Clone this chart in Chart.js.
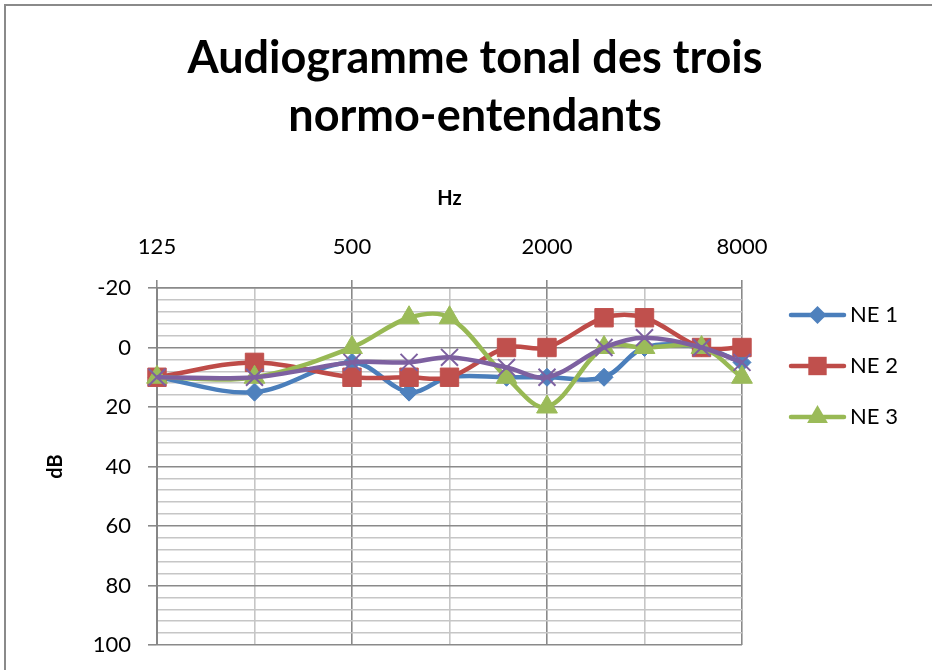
<!DOCTYPE html>
<html>
<head>
<meta charset="utf-8">
<script src="https://cdn.jsdelivr.net/npm/chart.js@4.4.0/dist/chart.umd.min.js"></script>
<style>
html,body{margin:0;padding:0;background:#fff;}
#wrap{position:relative;width:932px;height:670px;}
</style>
</head>
<body>
<div id="wrap"><canvas id="c" width="932" height="670"></canvas></div>
<script>
// ---- data ----
const frequencies = [125, 250, 500, 750, 1000, 1500, 2000, 3000, 4000, 6000, 8000];
const ne1 = [10, 15, 5, 15, 10, 10, 10, 10, 0, 0, 5];
const ne2 = [10, 5, 10, 10, 10, 0, 0, -10, -10, 0, 0];
const ne3 = [10, 10, 0, -10, -10, 10, 20, 0, 0, 0, 10];
const moyenne = [10, 10, 5, 5, 3.3, 6.7, 10, 0, -3.3, 0, 5];
const seriesNames = ['NE 1', 'NE 2', 'NE 3', 'Moyenne'];
const xTickValues = [125, 250, 500, 1000, 2000, 4000, 8000];
const xTickLabels = [125, 500, 2000, 8000];
const yTickLabels = [-20, 0, 20, 40, 60, 80, 100];
const titleLines = ['Audiogramme tonal des trois', 'normo-entendants'];

// ---- styles ----
const FONT = 'Lato';
const MAJOR = '#8a8a8a';
const MINOR = '#c6c6c6';
const styles = [
  {line:'#4A7EBB', fill:'#4F81BD', point:'rectRot', r:9},
  {line:'#BE4B48', fill:'#C0504D', point:'rect', r:13},
  {line:'#98B954', fill:'#9BBB59', point:'triangle', r:12},
  {line:'#7D60A0', fill:'#8064A2', point:'crossRot', r:12}
];
const seriesValues = [ne1, ne2, ne3, moyenne];

const datasets = seriesValues.map((vals, i) => ({
  label: seriesNames[i],
  data: frequencies.map((f, k) => ({x: f, y: vals[k]})),
  borderColor: styles[i].line,
  backgroundColor: styles[i].fill,
  borderWidth: 4.5,
  tension: 0.35,
  pointStyle: styles[i].point,
  pointRadius: styles[i].r,
  pointBackgroundColor: styles[i].fill,
  pointBorderColor: styles[i].point === 'crossRot' ? styles[i].line : styles[i].fill,
  pointBorderWidth: styles[i].point === 'crossRot' ? 2 : 1,
  clip: false,
  order: 4 - i,
  showInLegend: i < 3
}));

const framePlugin = {
  id: 'frame',
  afterDraw(chart) {
    const ctx = chart.ctx;
    ctx.save();
    ctx.strokeStyle = '#8a8a8a';
    ctx.lineWidth = 2;
    ctx.beginPath();
    ctx.moveTo(5, chart.height);
    ctx.lineTo(5, 5);
    ctx.lineTo(chart.width, 5);
    ctx.stroke();
    ctx.restore();
  }
};

function drawMarker(ctx, style, x, y, r, fill) {
  ctx.fillStyle = fill;
  ctx.beginPath();
  if (style === 'rectRot') {
    ctx.moveTo(x - r, y); ctx.lineTo(x, y - r); ctx.lineTo(x + r, y); ctx.lineTo(x, y + r);
  } else if (style === 'rect') {
    const s = r * Math.SQRT1_2;
    ctx.rect(x - s, y - s, 2 * s, 2 * s);
  } else if (style === 'triangle') {
    ctx.moveTo(x, y - r);
    ctx.lineTo(x + r * Math.sin(2 * Math.PI / 3), y - r * Math.cos(2 * Math.PI / 3));
    ctx.lineTo(x + r * Math.sin(4 * Math.PI / 3), y - r * Math.cos(4 * Math.PI / 3));
  }
  ctx.closePath();
  ctx.fill();
}

const legendPlugin = {
  id: 'customLegend',
  afterDraw(chart) {
    const ctx = chart.ctx;
    const rows = [315, 366, 417];
    ctx.save();
    chart.data.datasets.forEach((ds, i) => {
      if (!ds.showInLegend) return;
      const y = rows[i];
      ctx.strokeStyle = ds.borderColor;
      ctx.lineWidth = 4.5;
      ctx.lineCap = 'round';
      ctx.beginPath();
      ctx.moveTo(791, y); ctx.lineTo(844, y);
      ctx.stroke();
      drawMarker(ctx, ds.pointStyle, 817.5, y, ds.pointRadius, ds.pointBackgroundColor);
      ctx.fillStyle = '#000';
      ctx.font = '22px ' + FONT;
      ctx.textBaseline = 'middle';
      ctx.textAlign = 'left';
      ctx.fillText(ds.label, 850, y);
    });
    ctx.restore();
  }
};

new Chart(document.getElementById('c'), {
  type: 'line',
  data: { datasets },
  plugins: [framePlugin, legendPlugin],
  options: {
    responsive: false,
    animation: false,
    events: [],
    layout: { padding: { left: 18, top: 0, right: 0, bottom: 25 } },
    plugins: {
      legend: { display: false },
      tooltip: { enabled: false },
      title: {
        display: true,
        text: titleLines,
        color: '#000',
        font: { family: FONT, size: 45, weight: 'bold', lineHeight: 1.3 },
        padding: { top: 29, bottom: 0 }
      }
    },
    scales: {
      x: {
        type: 'logarithmic',
        position: 'top',
        min: 125,
        max: 8000,
        afterBuildTicks(s) { s.ticks = xTickValues.map(v => ({ value: v })); },
        afterFit(s) { s.height = 142; },
        ticks: {
          autoSkip: false, maxRotation: 0, minRotation: 0, padding: 20,
          color: '#000', font: { family: FONT, size: 22 },
          callback(v) { return xTickLabels.includes(v) ? String(v) : ''; }
        },
        grid: {
          color: c => (c.tick && xTickLabels.includes(c.tick.value)) ? MAJOR : MINOR,
          lineWidth: 1.6,
          tickLength: 8,
          tickColor: c => (c.tick && xTickLabels.includes(c.tick.value)) ? MAJOR : 'rgba(0,0,0,0)',
          tickWidth: 1.6
        },
        border: { display: true, color: MAJOR, width: 1.6 },
        title: {
          display: true, text: 'Hz', color: '#000',
          font: { family: FONT, size: 20, weight: 'bold' },
          padding: { top: 41, bottom: 0 }
        }
      },
      y: {
        type: 'linear',
        position: 'left',
        reverse: true,
        min: -20,
        max: 100,
        afterFit(s) { s.width = 139; s.paddingTop = 0; s.paddingBottom = 0; },
        ticks: {
          stepSize: 4, autoSkip: false, maxTicksLimit: 100, padding: 17,
          color: '#000', font: { family: FONT, size: 22 },
          callback(v) { return yTickLabels.includes(v) ? String(v) : ''; }
        },
        grid: {
          color: c => (c.tick && c.tick.value % 20 === 0) ? MAJOR : MINOR,
          lineWidth: 1.6,
          tickLength: 9,
          tickColor: c => (c.tick && c.tick.value % 20 === 0) ? MAJOR : 'rgba(0,0,0,0)',
          tickWidth: 1.6
        },
        border: { display: true, color: '#868686', width: 2 },
        title: {
          display: true, text: 'dB', color: '#000',
          font: { family: FONT, size: 20, weight: 'bold' },
          padding: { top: 26, bottom: 0 }
        }
      },
      yR: {
        type: 'linear',
        position: 'right',
        display: true,
        afterFit(s) { s.width = 190; s.paddingTop = 0; s.paddingBottom = 0; },
        ticks: { display: false },
        grid: { display: false, drawTicks: false },
        border: { display: false }
      }
    }
  }
});
</script>
</body>
</html>
